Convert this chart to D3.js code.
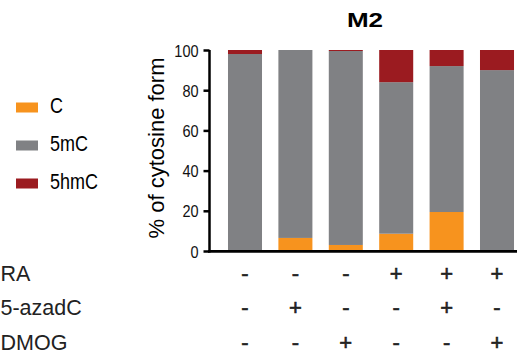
<!DOCTYPE html>
<html><head><meta charset="utf-8">
<script src="https://cdn.jsdelivr.net/npm/d3@7"></script>
<style>body{margin:0;background:#fff}svg{display:block;font-family:"Liberation Sans",Arial,sans-serif}</style>
</head><body>
<svg id="c" width="517" height="361"></svg>
<script>
const categories = ["1","2","3","4","5","6"];
const seriesNames = ["C","5mC","5hmC"];
const valuesC    = [0, 6.5, 3, 8.6, 19.4, 0];
const values5mC  = [98, 93.5, 96.5, 75.4, 72.6, 90];
const values5hmC = [2, 0, 0.5, 16, 8, 10];
const colors = ["#F7931E","#808184","#9B1B20"];
const yTicks = [0,20,40,60,80,100];
const treatmentNames = ["RA","5-azadC","DMOG"];
const RA     = ["-","-","-","+","+","+"];
const azadC  = ["-","+","-","-","+","-"];
const DMOG   = ["-","-","+","-","-","+"];

const svg = d3.select("#c");
const x = d3.scaleBand().domain(categories).range([219.8, 522.2]).paddingInner(0.325).paddingOuter(0.1625);
const y = d3.scaleLinear().domain([0,100]).range([251, 50]);

const rows = categories.map((c,i)=>({cat:c, C:valuesC[i], "5mC":values5mC[i], "5hmC":values5hmC[i]}));
const stack = d3.stack().keys(seriesNames)(rows);
svg.append("g").selectAll("g").data(stack).join("g").attr("fill",(d,i)=>colors[i])
  .selectAll("rect").data(d=>d).join("rect")
  .attr("x",d=>x(d.data.cat)).attr("width",x.bandwidth())
  .attr("y",d=>y(d[1])).attr("height",d=>y(d[0])-y(d[1]));

// y axis
const ya = svg.append("g").attr("transform","translate(209.5,0)")
  .call(d3.axisLeft(y).tickValues(yTicks).tickSize(6).tickPadding(4));
ya.select(".domain").attr("stroke","#000").attr("stroke-width",2.5).attr("d","M0,"+y(100)+"V"+(y(0)+1.5));
ya.selectAll(".tick line").attr("stroke","#000").attr("stroke-width",2.5);
ya.selectAll(".tick text").attr("font-size",14.5).attr("fill","#111").attr("font-family","Liberation Sans, Arial")
  .attr("dy",null).attr("y",0).attr("x",0)
  .attr("transform","translate(-11,6) scale(1,1.19)");

// x axis line
svg.append("line").attr("x1",208).attr("x2",517).attr("y1",y(0)+0.3).attr("y2",y(0)+0.3)
  .attr("stroke","#000").attr("stroke-width",2.8);

// title
svg.append("text").attr("text-anchor","middle").attr("font-weight","bold").attr("font-size",26)
  .attr("transform","translate(365,27) scale(1,0.75)").text("M2");

// y label
svg.append("text").attr("text-anchor","middle").attr("font-size",22)
  .attr("transform","translate(164,148) rotate(-90)").text("% of cytosine form");

// legend
const lg = svg.append("g");
const lgY = [113,151,189];
seriesNames.forEach((n,i)=>{
  lg.append("rect").attr("x",16).attr("y",lgY[i]-10.5).attr("width",22).attr("height",10).attr("fill",colors[i]);
  lg.append("text").attr("font-size",18).attr("transform",`translate(50,${lgY[i]}) scale(1,1.2)`).text(n);
});

// treatment table
const tY = [281,315,350];
const tVals = [RA, azadC, DMOG];
treatmentNames.forEach((n,r)=>{
  svg.append("text").attr("x",0.5).attr("y",tY[r]).attr("font-size",21.5).attr("fill","#222").text(n);
  svg.append("g").selectAll("text").data(tVals[r]).join("text")
    .attr("x",(d,i)=>x(categories[i])+x.bandwidth()/2).attr("y",tY[r])
    .attr("text-anchor","middle").attr("font-size",22).attr("fill","#222")
    .attr("stroke","#222").attr("stroke-width",0.6).text(d=>d);
});
</script>
</body></html>
